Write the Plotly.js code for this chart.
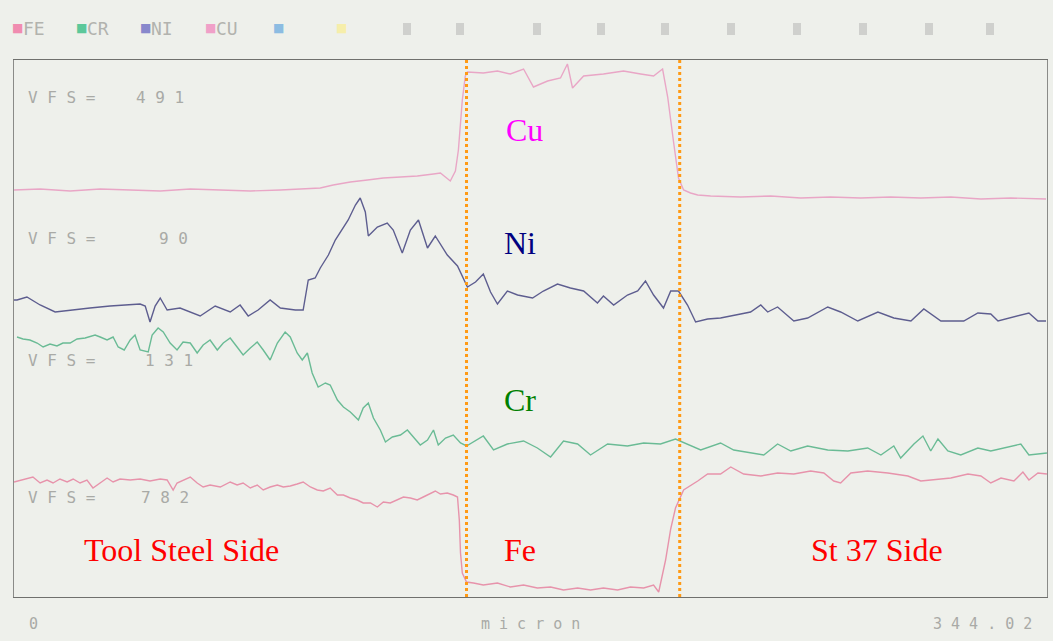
<!DOCTYPE html>
<html>
<head>
<meta charset="utf-8">
<script src="https://cdn.plot.ly/plotly-3.0.1.min.js"></script>
<style>
  html, body { margin: 0; padding: 0; background: #eef0eb; }
  #chart { width: 1053px; height: 641px; }
</style>
</head>
<body>
<div id="chart"></div>
<script>
// ---- data (x in micron, y = relative intensity offset of each trace) ----
const cuX = [0, 8.7, 18.7, 28.7, 38.7, 48.7, 58.7, 68.7, 78.7, 88.7,
  95.3, 102, 106.3, 112, 117.7, 123, 128.7, 134.3, 139.7, 142,
  145.3, 147, 148, 149.3, 150.3, 151, 156.3, 161, 165.3, 169.7,
  173, 177.7, 182, 184.3, 186, 189.7, 196.3, 203, 208.7, 213,
  216, 217.7, 219.7, 221.3, 223, 225.3, 227.7, 232, 242, 252,
  262, 272, 282, 292, 302, 312, 322, 332, 343.7];
const cuY = [407, 408, 406, 408, 407, 406, 408, 407, 406, 407,
  408, 409, 412, 415, 417, 419, 420, 421, 423, 424,
  416, 426, 447, 497, 521, 525, 524, 526, 523, 528,
  510, 516, 519, 533, 509, 521, 523, 526, 523, 521,
  528, 500, 454, 419, 407, 404, 402, 401, 400, 401,
  399, 400, 399, 400, 399, 400, 398, 399, 398];

const niX = [0, 1, 4.3, 8.7, 13.7, 18.7, 25.3, 32, 38.7, 42,
  43.7, 45.3, 47, 48.7, 51, 55.3, 62, 67, 72, 75.3,
  78, 81.3, 85.3, 88.7, 93.7, 96.3, 98, 100.3, 102, 104.7,
  107, 108.7, 111.3, 113.7, 115.3, 117, 118, 121, 124.3, 126.3,
  129.3, 132, 134.7, 137.7, 140.3, 144.3, 147.7, 151, 153.7, 156.3,
  158.7, 161, 164.3, 167.7, 172.7, 176.3, 181, 185.3, 189.7, 194.3,
  196.3, 199.7, 204.3, 207.7, 210.3, 213, 216.3, 218.7, 221.3, 224.3,
  227, 231, 235.3, 242, 245.3, 248.7, 251, 254.3, 259.7, 264.3,
  271, 275.3, 281, 287.7, 293, 298.7, 303, 308.7, 316.3, 321,
  325.3, 327.7, 334.3, 338, 341, 343.7];
const niY = [297, 297, 300, 292, 285, 287, 289, 291, 292, 293,
  291, 275, 291, 299, 287, 289, 281, 291, 285, 292,
  281, 287, 297, 289, 287, 287, 317, 319, 329, 342,
  357, 365, 377, 392, 399, 385, 361, 370, 374, 367,
  344, 367, 377, 349, 361, 342, 331, 310, 315, 323,
  305, 293, 306, 302, 299, 306, 313, 309, 306, 294,
  301, 292, 302, 306, 316, 302, 289, 306, 306, 292,
  275, 278, 279, 283, 285, 292, 285, 290, 276, 279,
  290, 285, 276, 285, 279, 276, 288, 276, 276, 284,
  283, 276, 281, 284, 276, 276];

const crX = [1, 3, 5.3, 7.7, 9.7, 12, 14.3, 16.3, 18.7, 21,
  23.7, 27, 28.7, 31, 33, 34.7, 36.7, 38.7, 40.3, 42,
  44.7, 46, 48, 49.7, 52, 54.3, 56.3, 58.7, 61, 63,
  65.3, 67.7, 69.7, 72, 74.3, 76.3, 78.7, 81, 83, 85.3,
  87.7, 90.3, 92, 94.3, 96, 97.7, 99.3, 101.3, 103.7, 105.3,
  107.7, 109.7, 112, 114.7, 116.3, 118, 119.7, 122, 123.7, 126,
  128.7, 131, 133, 135.3, 137.7, 139.7, 141.3, 143.7, 146.3, 148.7,
  150.7, 156.3, 159.7, 164.3, 169.7, 174.3, 178.7, 183, 187.7, 192,
  197.7, 204.3, 209.7, 215.3, 220.3, 225.3, 228.7, 235.3, 239.7, 249.7,
  254.3, 258.7, 264.3, 271, 277.7, 284.3, 288.7, 293, 295.3, 299.7,
  302.7, 305.3, 307.7, 311, 315.3, 321, 325.3, 335.3, 338, 344];
const crY = [260, 258, 257, 254, 250, 253, 251, 254, 254, 258,
  259, 262, 260, 257, 260, 250, 247, 257, 262, 247,
  245, 262, 269, 265, 254, 247, 255, 254, 244, 252,
  257, 247, 254, 259, 250, 242, 249, 255, 247, 237,
  254, 265, 260, 244, 237, 244, 224, 210, 214, 212,
  197, 190, 185, 177, 189, 194, 179, 167, 155, 160,
  162, 167, 160, 152, 157, 167, 152, 159, 162, 154,
  151, 161, 147, 153, 156, 149, 140, 156, 153, 142,
  153, 151, 154, 153, 158, 151, 147, 154, 147, 142,
  153, 146, 151, 147, 146, 149, 142, 151, 139, 153,
  161, 146, 158, 146, 142, 149, 146, 153, 142, 144];

const feX = [0, 4.3, 6.3, 8.7, 11, 13, 15.3, 17.7, 19.7, 22,
  24.3, 26.3, 28.7, 31, 33, 35.3, 38.7, 42, 45.3, 48.7,
  51, 53, 54.3, 56.3, 58.7, 61, 63, 65.3, 68.7, 72,
  74.3, 76.3, 78.7, 81, 83, 85.3, 87.7, 89.7, 92, 94.3,
  96.3, 98.7, 101, 103, 105.3, 107.7, 109.7, 112, 114.3, 116.3,
  118.7, 121, 123, 125.3, 127.7, 129.7, 132, 134.3, 136.3, 138.7,
  140.3, 142, 144.3, 146.3, 147.7, 148.3, 148.7, 149.3, 150.7, 153,
  156.3, 161, 165.3, 169.7, 174.3, 178.7, 183, 187.7, 192, 196.3,
  201, 205.3, 209.7, 213, 214.7, 217, 218.7, 220.3, 223, 227.7,
  231, 235.3, 238.7, 243, 248.7, 254.3, 259.7, 265.3, 269.7, 273,
  275.3, 278.7, 284.3, 291, 297.7, 302, 306.3, 312, 317.7, 322,
  325.3, 328.7, 333, 336, 338, 341, 344];
const feY = [115, 118, 120, 114, 117, 114, 118, 115, 118, 114,
  117, 109, 114, 119, 115, 118, 117, 118, 116, 118,
  117, 107, 114, 117, 120, 114, 110, 112, 110, 115,
  112, 114, 109, 112, 107, 110, 112, 110, 111, 113,
  115, 110, 107, 106, 109, 102, 102, 99, 97, 94,
  94, 90, 95, 94, 97, 100, 99, 97, 100, 104,
  106, 103, 104, 102, 100, 77, 44, 24, 15, 14,
  12, 14, 10, 12, 9, 10, 7, 9, 7, 9,
  7, 10, 9, 12, 5, 37, 68, 89, 107, 116,
  123, 123, 130, 123, 121, 124, 123, 126, 124, 116,
  114, 124, 126, 124, 121, 116, 117, 119, 123, 121,
  114, 119, 116, 125, 117, 124, 123];

// interface positions (micron) of the Cu interlayer
const interfaceX = [150.7, 221.7];

// element labels on the plot
const elementNames = ['Cu', 'Ni', 'Cr', 'Fe'];
const sideNames = ['Tool Steel Side', 'St 37 Side'];

// instrument header / scale texts
const legendNames = ['FE', 'CR', 'NI', 'CU', '', ''];
const vfsValues = ['491', '90', '131', '782'];
const axisTexts = ['0', 'micron', '344.02'];

// ---- layout helpers ----
const W = 1053, H = 641;
const L = 14, R = 1047, T = 60, B = 597;
const px = v => (v - L) / (R - L);   // pixel x -> paper
const py = v => (B - v) / (B - T);   // pixel y -> paper
const spaced = s => s.split('').join(' '); // printer-style wide lettering

const lineW = 1.4;
const traces = [
  {x: cuX, y: cuY, name: 'CU', line: {color: '#e9a6c6', width: lineW}},
  {x: niX, y: niY, name: 'NI', line: {color: '#5d5d8f', width: lineW}},
  {x: crX, y: crY, name: 'CR', line: {color: '#6abb95', width: lineW}},
  {x: feX, y: feY, name: 'FE', line: {color: '#e793ab', width: lineW}}
].map(t => Object.assign({type: 'scatter', mode: 'lines', hoverinfo: 'skip'}, t));

const annotations = [];
const serif = 'Liberation Serif, Times New Roman, serif';
const mono = 'DejaVu Sans Mono, monospace';
const grayText = '#a9aaa6';

// element labels
const elemColors = ['#ff00ff', '#000080', '#008000', '#ff0000'];
const elemPx = [[524, 130], [520, 243], [520, 400], [520, 550]];
elementNames.forEach((n, i) => annotations.push({
  text: n, xref: 'paper', yref: 'paper', x: px(elemPx[i][0]), y: py(elemPx[i][1]),
  showarrow: false, xanchor: 'center', yanchor: 'middle',
  font: {family: serif, size: 32, color: elemColors[i]}
}));
const sidePx = [[181, 550], [877, 550]];
sideNames.forEach((n, i) => annotations.push({
  text: n, xref: 'paper', yref: 'paper', x: px(sidePx[i][0]), y: py(sidePx[i][1]),
  showarrow: false, xanchor: 'center', yanchor: 'middle',
  font: {family: serif, size: 32, color: '#ff0000'}
}));

// VFS labels
const vfsRowY = [97, 238, 360, 497];
const vfsValX = [134, 157, 143, 139];
vfsValues.forEach((v, i) => {
  annotations.push({
    text: spaced('VFS='), xref: 'paper', yref: 'paper', x: px(26), y: py(vfsRowY[i]),
    showarrow: false, xanchor: 'left', yanchor: 'middle',
    font: {family: mono, size: 16, color: grayText}
  });
  annotations.push({
    text: spaced(v), xref: 'paper', yref: 'paper', x: px(vfsValX[i]), y: py(vfsRowY[i]),
    showarrow: false, xanchor: 'left', yanchor: 'middle',
    font: {family: mono, size: 16, color: grayText}
  });
});

// header legend
const legSqColors = ['#f08cb0', '#5cc89a', '#8888cc', '#f0a0c8', '#8cbce2', '#f6eeaa'];
const legSqX = [17, 81, 145, 210, 278, 341];
legendNames.forEach((n, i) => {
  annotations.push({
    text: '■', xref: 'paper', yref: 'paper', x: px(legSqX[i]), y: py(28),
    showarrow: false, xanchor: 'center', yanchor: 'middle',
    font: {family: 'DejaVu Sans', size: 12, color: legSqColors[i]}
  });
  if (n) annotations.push({
    text: n, xref: 'paper', yref: 'paper', x: px(legSqX[i] + 4), y: py(28),
    showarrow: false, xanchor: 'left', yanchor: 'middle',
    font: {family: mono, size: 18, color: '#b2b3ae'}
  });
});

// bottom scale texts
const axisPx = [33, 530, 982];
axisTexts.forEach((t, i) => annotations.push({
  text: spaced(t), xref: 'paper', yref: 'paper', x: px(axisPx[i]), y: py(624),
  showarrow: false, xanchor: 'center', yanchor: 'middle',
  font: {family: mono, size: 15, color: grayText}
}));

// shapes: interface dotted lines + faint header icons
const shapes = interfaceX.map(x => ({
  type: 'line', xref: 'x', yref: 'paper', x0: x, x1: x, y0: 0, y1: 1.004,
  line: {color: '#ff9a14', width: 3, dash: 'dot'}
}));
const iconPx = [407, 460, 537, 601, 665, 731, 797, 863, 929, 990];
iconPx.forEach(p => shapes.push({
  type: 'rect', xref: 'paper', yref: 'paper',
  x0: px(p - 4), x1: px(p + 4), y0: py(35), y1: py(23),
  line: {width: 0}, fillcolor: 'rgba(150,150,150,0.35)'
}));

const layout = {
  width: W, height: H,
  margin: {l: L, r: W - R, t: T, b: H - B, pad: 0},
  paper_bgcolor: '#eef0eb',
  plot_bgcolor: '#eef0eb',
  showlegend: false,
  xaxis: {
    range: [0, 344.02], showgrid: false, zeroline: false, showticklabels: false,
    ticks: '', showline: true, mirror: true, linecolor: '#6f706d', linewidth: 1.2
  },
  yaxis: {
    range: [0, 537], showgrid: false, zeroline: false, showticklabels: false,
    ticks: '', showline: true, mirror: true, linecolor: '#8a8b88', linewidth: 1
  },
  annotations: annotations,
  shapes: shapes
};

Plotly.newPlot('chart', traces, layout, {staticPlot: true, displayModeBar: false});
</script>
</body>
</html>
